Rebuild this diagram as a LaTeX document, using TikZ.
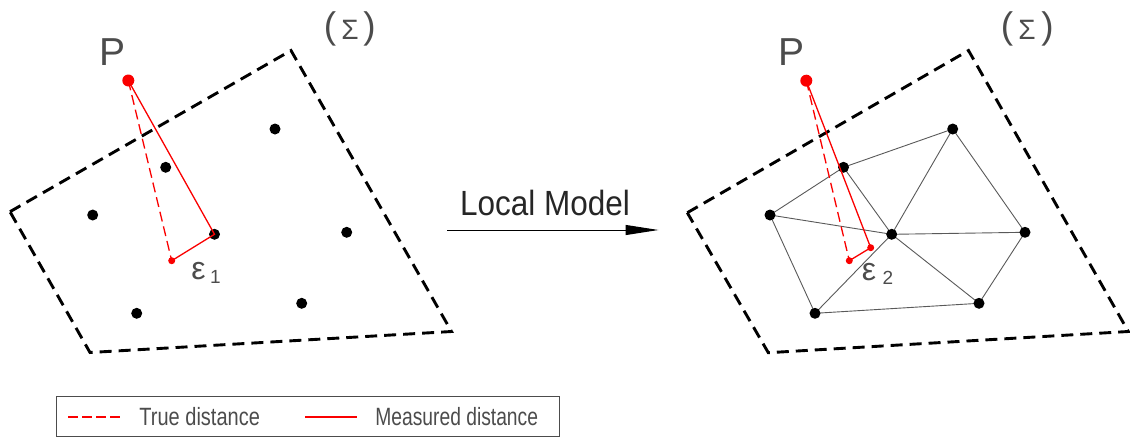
\documentclass[tikz,border=0pt]{standalone}
\usepackage{fontspec}
\usepackage{graphicx}
\setmainfont{Liberation Sans}
\usetikzlibrary{arrows.meta}
\definecolor{txt}{gray}{0.3}
\definecolor{pred}{RGB}{250,0,0}
\definecolor{meshc}{gray}{0.35}
\begin{document}
\begin{tikzpicture}[x=1pt,y=-1pt,
  frame/.style={line width=2.9pt, dash pattern=on 12pt off 7pt, draw=black, line join=miter},
  dot/.style={circle, fill=black, inner sep=0pt, minimum size=11pt},
  pdot/.style={circle, fill=pred, inner sep=0pt, minimum size=12pt},
  fdot/.style={circle, fill=pred, inner sep=0pt, minimum size=7pt},
  truedist/.style={draw=pred, line width=1.3pt, dash pattern=on 10pt off 5pt},
  measdist/.style={draw=pred, line width=1.3pt},
  legsample/.style={draw=pred, color=pred, line width=1.8pt},
  mesh/.style={draw=meshc, line width=0.9pt},
  lbl/.style={text=txt, inner sep=0pt},
  bigP/.style={lbl, font=\fontsize{39}{39}\selectfont},
  paren/.style={lbl, font=\fontsize{37}{37}\selectfont},
  sig/.style={lbl, font=\fontsize{28}{28}\selectfont},
  eps/.style={lbl, font=\fontsize{32}{32}\selectfont},
  sub/.style={lbl, font=\fontsize{19}{19}\selectfont},
  title/.style={lbl, text=black!85, font=\fontsize{35}{35}\selectfont},
  legtext/.style={lbl, font=\fontsize{25}{25}\selectfont},
  legbox/.style={draw=txt, line width=0.9pt},
  arrowline/.style={draw=black, line width=1pt, -{Triangle[length=33pt,width=10pt]}}
]
\useasboundingbox (0,0) rectangle (1130,437);

% ---------------- left panel ----------------
\draw[frame] (10,211.7) -- (291,50.5) -- (451.5,331.5) -- (90,352.5) -- cycle;
\coordinate (P1) at (128.3,80.5);
\coordinate (F1) at (171.7,260.7);
\coordinate (a1) at (275,129);
\coordinate (b1) at (165.7,167.3);
\coordinate (c1) at (92.7,215);
\coordinate (d1) at (214.5,234.3);
\coordinate (e1) at (346.7,232.3);
\coordinate (f1) at (301.7,303.3);
\coordinate (g1) at (136.7,313.3);
\draw[truedist] (P1) -- (F1);
\node[dot] (na1) at (a1) {};
\node[dot] (nb1) at (b1) {};
\node[dot] (nc1) at (c1) {};
\node[dot] (nd1) at (d1) {};
\node[dot] (ne1) at (e1) {};
\node[dot] (nf1) at (f1) {};
\node[dot] (ng1) at (g1) {};
\draw[measdist] (P1) -- (nd1.center) -- (F1);
\node[pdot] (nP1) at (P1) {};
\node[fdot] (nF1) at (F1) {};
\node[bigP] (tP1) at (113,52.5) {P};
\node[paren] (lp1) at (330,29) {(};
\node[sig] (s1) at (350,30) {Σ};
\node[paren] (rp1) at (369.5,29) {)};
\node[eps] (ep1) at (198.5,271) {ε};
\node[sub] (i1) at (215.5,277.3) {1};

% ---------------- arrow ----------------
\node[title] (lm) at (545,202.5) {\scalebox{0.9}[1]{Local Model}};
\coordinate (arS) at (447,230);
\coordinate (arE) at (658.5,230);
\draw[arrowline] (arS) -- (arE);

% ---------------- right panel ----------------
\draw[frame] (687.3,212.7) -- (968.5,50.5) -- (1128.3,331.5) -- (768.3,352.7) -- cycle;
\coordinate (P2) at (806.3,80.7);
\coordinate (F2) at (849.3,260.7);
\coordinate (M2) at (870.7,247.7);
\coordinate (a2) at (952.7,129);
\coordinate (b2) at (843.5,167.3);
\coordinate (c2) at (770,215);
\coordinate (d2) at (891.7,234.3);
\coordinate (e2) at (1025,232.3);
\coordinate (f2) at (979,303.3);
\coordinate (g2) at (815,313.3);
\draw[mesh] (b2) -- (a2);
\draw[mesh] (b2) -- (c2);
\draw[mesh] (b2) -- (d2);
\draw[mesh] (c2) -- (d2);
\draw[mesh] (c2) -- (g2);
\draw[mesh] (g2) -- (d2);
\draw[mesh] (g2) -- (f2);
\draw[mesh] (d2) -- (a2);
\draw[mesh] (a2) -- (e2);
\draw[mesh] (d2) -- (e2);
\draw[mesh] (d2) -- (f2);
\draw[mesh] (e2) -- (f2);
\node[dot] (na2) at (a2) {};
\node[dot] (nb2) at (b2) {};
\node[dot] (nc2) at (c2) {};
\node[dot] (nd2) at (d2) {};
\node[dot] (ne2) at (e2) {};
\node[dot] (nf2) at (f2) {};
\node[dot] (ng2) at (g2) {};
\draw[truedist] (P2) -- (F2);
\draw[measdist] (P2) -- (M2) -- (F2);
\node[pdot] (nP2) at (P2) {};
\node[fdot] (nF2) at (F2) {};
\node[fdot] (nM2) at (M2) {};
\node[bigP] (tP2) at (791,52.5) {P};
\node[paren] (lp2) at (1007,29) {(};
\node[sig] (s2) at (1027,30) {Σ};
\node[paren] (rp2) at (1047.5,29) {)};
\node[eps] (ep2) at (869,272) {ε};
\node[sub] (i2) at (888,277.5) {2};

% ---------------- legend ----------------
\draw[legbox] (56,396) rectangle (559,436);
\coordinate (t1) at (68,417);
\coordinate (t2) at (120,417);
\draw[legsample, dash pattern=on 10pt off 4pt] (t1) -- (t2);
\coordinate (m1) at (305,417);
\coordinate (m2) at (357,417);
\draw[legsample] (m1) -- (m2);
\node[legtext] (ltd) at (199.7,417) {\scalebox{0.8}[1]{True distance}};
\node[legtext] (lmd) at (456.7,417) {\scalebox{0.77}[1]{Measured distance}};
\end{tikzpicture}
\end{document}
